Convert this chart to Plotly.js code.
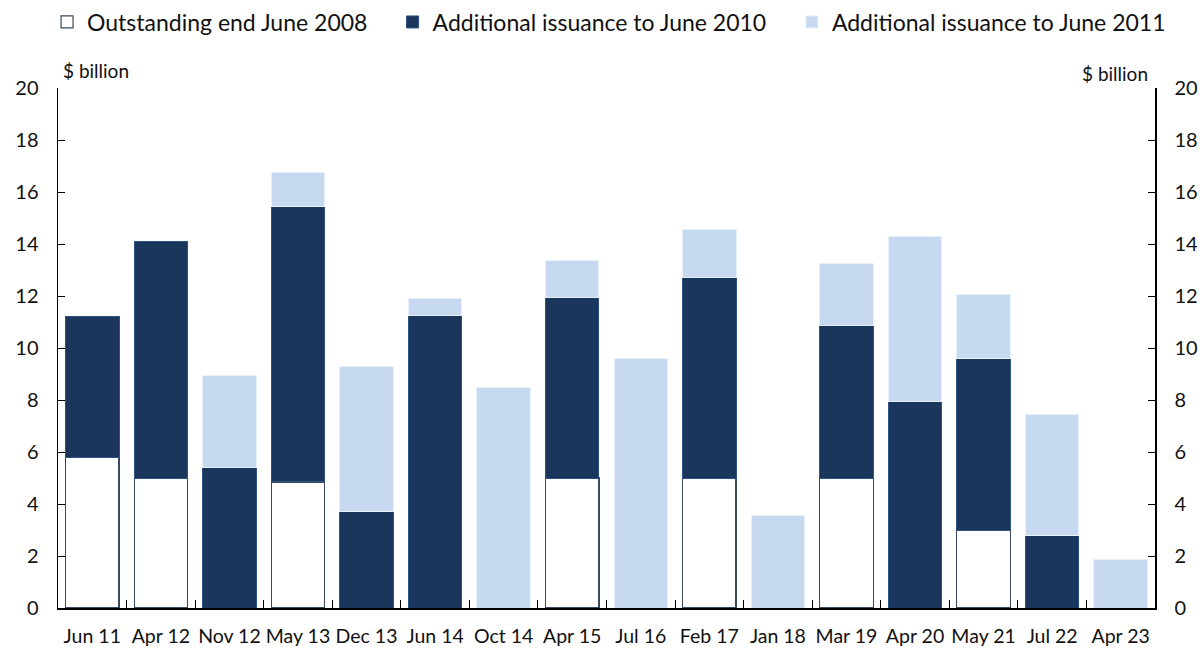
<!DOCTYPE html>
<html>
<head>
<meta charset="utf-8">
<script src="https://cdn.plot.ly/plotly-3.0.1.min.js"></script>
<style>html,body{margin:0;padding:0;background:#fff;}#chart{width:1204px;height:654px;}</style>
</head>
<body>
<div id="chart"></div>
<script>
const categories = ["Jun 11","Apr 12","Nov 12","May 13","Dec 13","Jun 14","Oct 14","Apr 15","Jul 16","Feb 17","Jan 18","Mar 19","Apr 20","May 21","Jul 22","Apr 23"];
const outstanding2008 = [5.8, 5.0, null, 4.85, null, null, null, 5.0, null, 5.0, null, 5.0, null, 3.0, null, null];
const issuance2010 = [5.4, 9.1, 5.4, 10.6, 3.7, 11.25, null, 6.95, null, 7.7, null, 5.85, 7.95, 6.6, 2.8, null];
const issuance2011 = [null, null, 3.55, 1.3, 5.6, 0.65, 8.5, 1.4, 9.6, 1.85, 3.55, 2.4, 6.35, 2.45, 4.65, 1.85];
const yTicks = [0, 2, 4, 6, 8, 10, 12, 14, 16, 18, 20];

const font = "Lato, 'Open Sans', sans-serif";
const legFont = {family: font, size: 23, color: "#111"};
const traces = [
  {type: "bar", name: "Outstanding end June 2008", x: categories, y: outstanding2008, legend: "legend",
   marker: {color: "#ffffff", line: {color: "#3a4a5e", width: 1.2}}},
  {type: "bar", name: "Additional issuance to June 2010", x: categories, y: issuance2010, legend: "legend2",
   marker: {color: "#1a365d", line: {color: "#2e5282", width: 1}}},
  {type: "bar", name: "Additional issuance to June 2011", x: categories, y: issuance2011, legend: "legend3",
   marker: {color: "#c6d9f0", line: {color: "#e8f0fa", width: 1}}},
  {type: "scatter", x: [categories[0]], y: [0], yaxis: "y2", showlegend: false,
   mode: "markers", marker: {opacity: 0, size: 1}, hoverinfo: "skip", cliponaxis: true}
];

function cy(px) { return 1 - px / 654; }
function leg(x) {
  return {orientation: "h", x: x, xanchor: "left", y: cy(22), yref: "container", yanchor: "middle",
          font: legFont, bgcolor: "rgba(0,0,0,0)"};
}
const L1 = leg(-0.010), L2 = leg(0.305), L3 = leg(0.669);

const layout = {
  width: 1204, height: 654,
  margin: {l: 58, r: 49, t: 88, b: 46},
  barmode: "stack", bargap: 0.22,
  paper_bgcolor: "#fff", plot_bgcolor: "#fff",
  font: {family: font, size: 20, color: "#111"},
  showlegend: true,
  legend: L1, legend2: L2, legend3: L3,
  xaxis: {type: "category", range: [-0.5, 15.5], tickson: "boundaries", ticks: "inside", ticklen: 8, tickcolor: "#000",
          tickangle: 0, showline: true, linecolor: "#000", linewidth: 1.5, showgrid: false, zeroline: false,
          tickfont: {family: font, size: 19.5, color: "#111"}, ticklabelstandoff: 10, fixedrange: true},
  yaxis: {range: [0, 20], tickvals: yTicks, ticks: "inside", ticklen: 7, tickcolor: "#000",
          showline: true, linecolor: "#000", linewidth: 1.5, showgrid: false, zeroline: false,
          tickfont: {family: font, size: 20, color: "#111"}, ticklabelstandoff: 14},
  yaxis2: {range: [0, 20], tickvals: yTicks, overlaying: "y", side: "right", ticks: "inside", ticklen: 7,
           tickcolor: "#000", showline: true, linecolor: "#000", linewidth: 1.5, showgrid: false,
           zeroline: false, tickfont: {family: font, size: 20, color: "#111"}, ticklabelstandoff: 14},
  annotations: [
    {text: "$ billion", xref: "paper", yref: "paper", x: 0.003, y: 1.0346, xanchor: "left", yanchor: "middle",
     showarrow: false, font: {family: font, size: 19, color: "#111"}},
    {text: "$ billion", xref: "paper", yref: "paper", x: 0.9954, y: 1.027, xanchor: "right", yanchor: "middle",
     showarrow: false, font: {family: font, size: 19, color: "#111"}}
  ]
};

Plotly.newPlot("chart", traces, layout, {displayModeBar: false, staticPlot: true});
</script>
</body>
</html>
